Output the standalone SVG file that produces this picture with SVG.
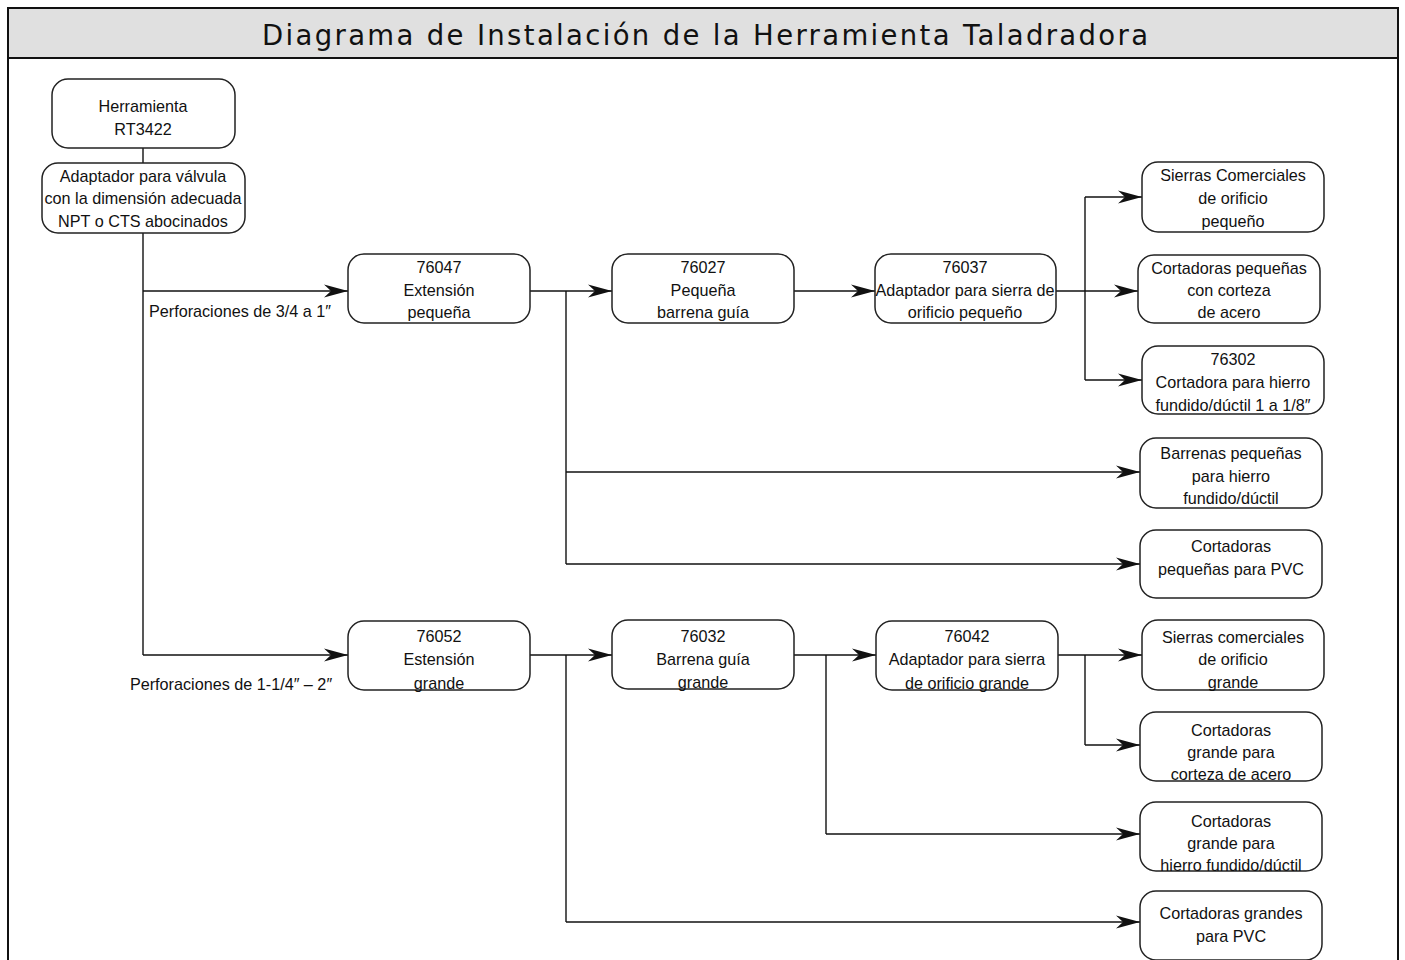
<svg xmlns="http://www.w3.org/2000/svg" width="1405" height="960" viewBox="0 0 1405 960">
<style>
.n rect{fill:#fff;stroke:#222;stroke-width:1.5}
text{font-family:"Liberation Sans",Arial,sans-serif;font-size:16.2px;fill:#111;text-anchor:middle}
.title{font-family:"DejaVu Sans",Verdana,sans-serif;font-size:27.5px;fill:#111}
.c path{fill:none;stroke:#111;stroke-width:1.4}
</style>
<defs>
<marker id="ar" markerUnits="userSpaceOnUse" markerWidth="26" markerHeight="16" refX="24" refY="8" orient="auto">
<path d="M0,1.5 L24,8 L0,14.5 L7,8 z" fill="#111"/>
</marker>
</defs>
<rect x="8" y="8" width="1390" height="970" fill="#fff" stroke="#111" stroke-width="2"/>
<rect x="8" y="8" width="1390" height="50" fill="#e0e0e0" stroke="#111" stroke-width="2"/>
<text class="title" x="705" y="45" textLength="886" lengthAdjust="spacing">Diagrama de Instalación de la Herramienta Taladradora</text>

<g class="c" id="connectors">
<path d="M143,148 V163"/>
<path d="M143,233 V655"/>
<path d="M143,291 H348" marker-end="url(#ar)"/>
<path d="M143,655 H348" marker-end="url(#ar)"/>
<path d="M530,291 H612" marker-end="url(#ar)"/>
<path d="M566,291 V564"/>
<path d="M566,472 H1140" marker-end="url(#ar)"/>
<path d="M566,564 H1140" marker-end="url(#ar)"/>
<path d="M794,291 H875" marker-end="url(#ar)"/>
<path d="M1056,291 H1138" marker-end="url(#ar)"/>
<path d="M1085,291 V197"/>
<path d="M1085,197 H1142" marker-end="url(#ar)"/>
<path d="M1085,291 V380"/>
<path d="M1085,380 H1142" marker-end="url(#ar)"/>
<path d="M530,655 H612" marker-end="url(#ar)"/>
<path d="M566,655 V922"/>
<path d="M566,922 H1140" marker-end="url(#ar)"/>
<path d="M794,655 H876" marker-end="url(#ar)"/>
<path d="M826,655 V834"/>
<path d="M826,834 H1140" marker-end="url(#ar)"/>
<path d="M1058,655 H1142" marker-end="url(#ar)"/>
<path d="M1085,655 V745"/>
<path d="M1085,745 H1140" marker-end="url(#ar)"/>
</g>

<text x="240" y="317">Perforaciones de 3/4 a 1″</text>
<text x="231" y="690">Perforaciones de 1-1/4″ – 2″</text>

<g class="n" id="n-herramienta"><rect x="52" y="79" width="183" height="69" rx="16"/><text x="143" y="112">Herramienta</text><text x="143" y="135">RT3422</text></g>
<g class="n" id="n-adaptador"><rect x="42" y="163" width="203" height="70" rx="16"/><text x="143" y="182">Adaptador para válvula</text><text x="143" y="204">con la dimensión adecuada</text><text x="143" y="227">NPT o CTS abocinados</text></g>

<g class="n" id="n-76047"><rect x="348" y="254" width="182" height="69" rx="16"/><text x="439" y="273">76047</text><text x="439" y="296">Extensión</text><text x="439" y="318">pequeña</text></g>
<g class="n" id="n-76027"><rect x="612" y="254" width="182" height="69" rx="16"/><text x="703" y="273">76027</text><text x="703" y="296">Pequeña</text><text x="703" y="318">barrena guía</text></g>
<g class="n" id="n-76037"><rect x="875" y="254" width="181" height="69" rx="16"/><text x="965" y="273">76037</text><text x="965" y="296">Adaptador para sierra de</text><text x="965" y="318">orificio pequeño</text></g>

<g class="n" id="n-sierras-peq"><rect x="1142" y="162" width="182" height="70" rx="16"/><text x="1233" y="181">Sierras Comerciales</text><text x="1233" y="204">de orificio</text><text x="1233" y="227">pequeño</text></g>
<g class="n" id="n-cort-peq-corteza"><rect x="1138" y="255" width="182" height="68" rx="16"/><text x="1229" y="274">Cortadoras pequeñas</text><text x="1229" y="296">con corteza</text><text x="1229" y="318">de acero</text></g>
<g class="n" id="n-76302"><rect x="1142" y="346" width="182" height="68" rx="16"/><text x="1233" y="365">76302</text><text x="1233" y="388">Cortadora para hierro</text><text x="1233" y="411">fundido/dúctil 1 a 1/8″</text></g>
<g class="n" id="n-barrenas-peq"><rect x="1140" y="438" width="182" height="70" rx="16"/><text x="1231" y="459">Barrenas pequeñas</text><text x="1231" y="482">para hierro</text><text x="1231" y="504">fundido/dúctil</text></g>
<g class="n" id="n-cort-peq-pvc"><rect x="1140" y="530" width="182" height="68" rx="16"/><text x="1231" y="552">Cortadoras</text><text x="1231" y="575">pequeñas para PVC</text></g>

<g class="n" id="n-76052"><rect x="348" y="621" width="182" height="69" rx="16"/><text x="439" y="642">76052</text><text x="439" y="665">Estensión</text><text x="439" y="689">grande</text></g>
<g class="n" id="n-76032"><rect x="612" y="620" width="182" height="69" rx="16"/><text x="703" y="642">76032</text><text x="703" y="665">Barrena guía</text><text x="703" y="688">grande</text></g>
<g class="n" id="n-76042"><rect x="876" y="621" width="182" height="69" rx="16"/><text x="967" y="642">76042</text><text x="967" y="665">Adaptador para sierra</text><text x="967" y="689">de orificio grande</text></g>

<g class="n" id="n-sierras-gr"><rect x="1142" y="620" width="182" height="70" rx="16"/><text x="1233" y="643">Sierras comerciales</text><text x="1233" y="665">de orificio</text><text x="1233" y="688">grande</text></g>
<g class="n" id="n-cort-gr-corteza"><rect x="1140" y="712" width="182" height="69" rx="16"/><text x="1231" y="736">Cortadoras</text><text x="1231" y="758">grande para</text><text x="1231" y="780">corteza de acero</text></g>
<g class="n" id="n-cort-gr-hierro"><rect x="1140" y="802" width="182" height="69" rx="16"/><text x="1231" y="827">Cortadoras</text><text x="1231" y="849">grande para</text><text x="1231" y="871">hierro fundido/dúctil</text></g>
<g class="n" id="n-cort-gr-pvc"><rect x="1140" y="891" width="182" height="69" rx="16"/><text x="1231" y="919">Cortadoras grandes</text><text x="1231" y="942">para PVC</text></g>
</svg>
